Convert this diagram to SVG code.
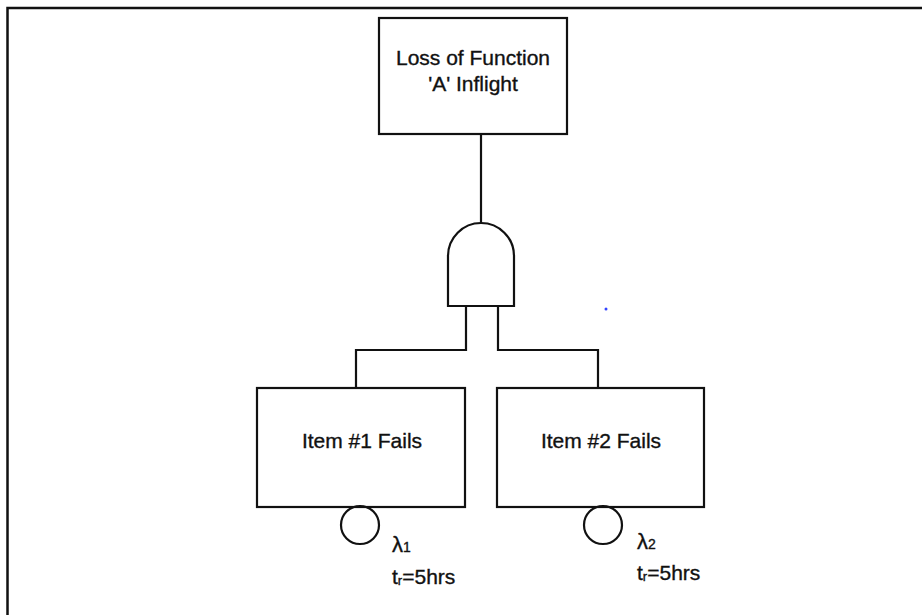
<svg xmlns="http://www.w3.org/2000/svg" width="922" height="615" viewBox="0 0 922 615">
<style>
.box{fill:#fff;stroke:#111;stroke-width:2.2}
.ln{fill:none;stroke:#111;stroke-width:2.2}
.t{font-family:"Liberation Sans",Arial,sans-serif;fill:#111;stroke:#111;stroke-width:0.35;text-anchor:middle}
.l{font-family:"Liberation Sans",Arial,sans-serif;fill:#111;stroke:#111;stroke-width:0.35}
</style>
<rect width="922" height="615" fill="#fff"/>
<g id="frame">
<path d="M7.5 615 V8 H922" fill="none" stroke="#111" stroke-width="2.5"/>
</g>
<g id="connectors">
<path class="ln" d="M481 135 V223"/>
<path class="ln" d="M466 306 V350 H356 V388"/>
<path class="ln" d="M498 306 V350 H598 V388"/>
</g>
<g id="top">
<rect class="box" x="379" y="18" width="188" height="116"/>
<text class="t" x="473" y="65" font-size="21">Loss of Function</text>
<text class="t" x="473" y="91" font-size="21">'A' Inflight</text>
</g>
<g id="gate">
<path class="ln" d="M448 306 V256 A33 33 0 0 1 514 256 V306 Z" fill="#fff"/>
</g>
<g id="item1">
<rect class="box" x="257" y="388" width="208" height="119"/>
<text class="t" x="362" y="448" font-size="21">Item #1 Fails</text>
<circle class="ln" cx="360" cy="525" r="19"/>
<text class="l" x="392" y="552" font-size="22">λ<tspan font-size="14">1</tspan></text>
<text class="l" x="392" y="584" font-size="21">t<tspan font-size="13" dy="1">r</tspan><tspan dy="-1">=5hrs</tspan></text>
</g>
<g id="item2">
<rect class="box" x="497" y="388" width="207" height="119"/>
<text class="t" x="601" y="448" font-size="21">Item #2 Fails</text>
<circle class="ln" cx="603" cy="525" r="19"/>
<text class="l" x="637" y="549" font-size="22">λ<tspan font-size="14">2</tspan></text>
<text class="l" x="637" y="580" font-size="21">t<tspan font-size="13" dy="1">r</tspan><tspan dy="-1">=5hrs</tspan></text>
</g>
<circle cx="606" cy="309" r="1.5" fill="#3344ff"/>
</svg>
